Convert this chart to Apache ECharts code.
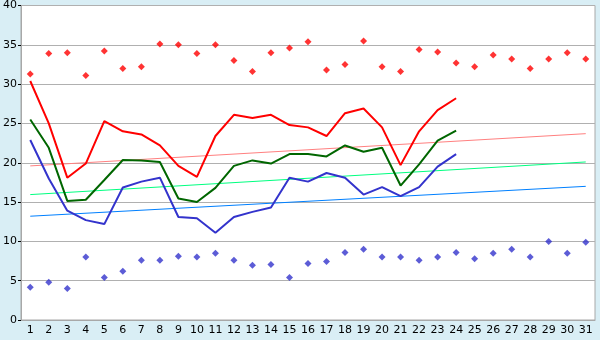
<!DOCTYPE html>
<html><head><meta charset="utf-8">
<script src="https://cdn.jsdelivr.net/npm/echarts@6/dist/echarts.min.js"></script>
<style>html,body{margin:0;padding:0;background:#d9eef5;}#c{width:600px;height:340px;}</style>
</head><body><div id="c"></div>
<script>
const days = ['1','2','3','4','5','6','7','8','9','10','11','12','13','14','15','16','17','18','19','20','21','22','23','24','25','26','27','28','29','30','31'];
const yTicks = [0,5,10,15,20,25,30,35,40];
const maxPoints = [31.3,33.9,34.0,31.1,34.2,32.0,32.2,35.1,35.0,33.9,35.0,33.0,31.6,34.0,34.6,35.4,31.8,32.5,35.5,32.2,31.6,34.4,34.1,32.7,32.2,33.7,33.2,32.0,33.2,34.0,33.2];
const minPoints = [4.15,4.8,4.0,8.0,5.4,6.2,7.6,7.6,8.1,8.0,8.5,7.6,6.95,7.07,5.4,7.2,7.45,8.6,9.0,8.0,8.0,7.6,8.0,8.6,7.8,8.5,9.0,8.0,10.0,8.5,9.9];
const redLine = [30.4,25.0,18.1,19.9,25.3,24.0,23.6,22.2,19.6,18.2,23.4,26.1,25.7,26.1,24.8,24.5,23.4,26.3,26.9,24.5,19.7,24.0,26.7,28.2];
const greenLine = [25.5,21.9,15.15,15.3,17.8,20.35,20.3,20.1,15.45,15.0,16.8,19.6,20.3,19.9,21.1,21.1,20.8,22.2,21.4,21.9,17.1,19.8,22.8,24.1];
const blueLine = [22.9,18.0,13.9,12.7,12.2,16.85,17.6,18.1,13.1,12.95,11.1,13.1,13.75,14.3,18.1,17.6,18.7,18.1,15.95,16.9,15.75,16.9,19.5,21.1];
const redTrend = [19.6, 23.7];
const greenTrend = [15.95, 20.1];
const blueTrend = [13.2, 17.0];

const chart = echarts.init(document.getElementById('c'), null, {renderer:'canvas'});
const first = days[0], last = days[days.length-1];
const trend = (vals, color) => ({
  type:'line', data:[[first, vals[0]],[last, vals[1]]], symbol:'none',
  lineStyle:{color:color, width:1}, silent:true, z:1
});
const line = (vals, color) => ({
  type:'line', data:vals, symbol:'none', lineStyle:{color:color, width:2}, z:3
});
const pts = (vals, color) => ({
  type:'scatter', data:vals, symbol:'diamond', symbolSize:7, itemStyle:{color:color}, z:4
});
chart.setOption({
  animation:false,
  backgroundColor:'#d9eef5',
  grid:{left:20, right:5, top:5, bottom:20, show:true, backgroundColor:'#ffffff', borderColor:'#a8a8a8', borderWidth:1},
  xAxis:{type:'category', data:days, boundaryGap:true,
    axisLine:{lineStyle:{color:'#a8a8a8'}},
    axisTick:{alignWithLabel:true, length:4, lineStyle:{color:'#000'}},
    axisLabel:{color:'#000', fontFamily:'DejaVu Sans', fontSize:11, margin:5, interval:0},
    splitLine:{show:false}},
  yAxis:{type:'value', min:yTicks[0], max:yTicks[yTicks.length-1], interval:5,
    axisLine:{show:true, lineStyle:{color:'#a8a8a8'}},
    axisTick:{show:true, length:3, lineStyle:{color:'#000'}},
    axisLabel:{color:'#000', fontFamily:'DejaVu Sans', fontSize:11, margin:4},
    splitLine:{lineStyle:{color:'#b0b0b0', width:1}}},
  series:[
    trend(redTrend,'#ff8080'),
    trend(greenTrend,'#00ff80'),
    trend(blueTrend,'#0080ff'),
    line(redLine,'#ff0000'),
    line(greenLine,'#006600'),
    line(blueLine,'#3333cc'),
    pts(maxPoints,'#ff0000'),
    pts(minPoints,'#3333cc')
  ]
});
</script></body></html>
